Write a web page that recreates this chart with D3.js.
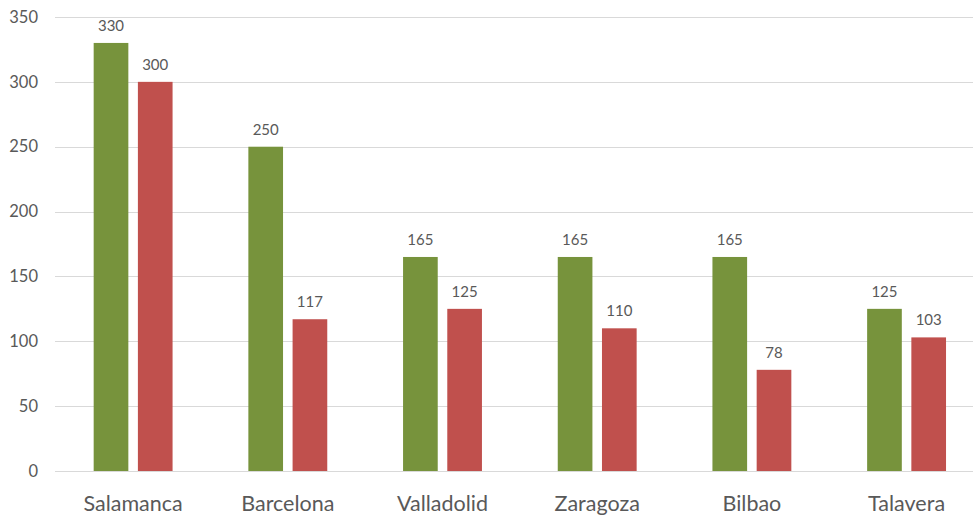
<!DOCTYPE html>
<html>
<head>
<meta charset="utf-8">
<script src="https://d3js.org/d3.v7.min.js"></script>
<style>
  body { margin: 0; background: #fff; }
  text { font-family: Lato, "Open Sans", sans-serif; fill: #595959; }
</style>
</head>
<body>
<script>
// Data
var cities = ["Salamanca", "Barcelona", "Valladolid", "Zaragoza", "Bilbao", "Talavera"];
var seriesNames = ["serie1", "serie2"];
var serie1 = [330, 250, 165, 165, 165, 125];
var serie2 = [300, 117, 125, 110, 78, 103];
var yTicks = [0, 50, 100, 150, 200, 250, 300, 350];
var colors = ["#77933C", "#C0504D"];

var width = 973, height = 516;

var svg = d3.select("body").append("svg")
    .attr("width", width)
    .attr("height", height);

// scales
var y = d3.scaleLinear()
    .domain([0, 350])
    .range([471, 17]);

var x0 = d3.scaleBand()
    .domain(cities)
    .range([55, 984.7])
    .paddingInner(0.49)
    .paddingOuter(0.25);

var x1 = d3.scaleBand()
    .domain(seriesNames)
    .range([0, x0.bandwidth()])
    .paddingInner(0.216);

// gridlines
svg.append("g")
  .selectAll("line")
  .data(yTicks)
  .enter().append("line")
    .attr("x1", 55)
    .attr("x2", width)
    .attr("y1", function(d) { return Math.round(y(d)) + 0.5; })
    .attr("y2", function(d) { return Math.round(y(d)) + 0.5; })
    .attr("stroke", "#d9d9d9")
    .attr("stroke-width", 1);

// y axis labels
var yAxis = svg.append("g")
    .attr("transform", "translate(38,0)")
    .call(d3.axisLeft(y).tickValues(yTicks).tickSize(0).tickPadding(0));
yAxis.select(".domain").remove();
yAxis.selectAll("text")
    .attr("font-size", "16.5px")
    .attr("font-family", null)
    .attr("fill", "#595959");

// x axis labels
var xAxis = svg.append("g")
    .attr("transform", "translate(0,471)")
    .call(d3.axisBottom(x0).tickSize(0).tickPadding(0));
xAxis.select(".domain").remove();
xAxis.selectAll("text")
    .attr("font-size", "21.5px")
    .attr("font-family", null)
    .attr("fill", "#595959")
    .attr("dy", null)
    .attr("y", 40);

// bars
var rows = cities.map(function(c, i) {
  return {city: c, values: [serie1[i], serie2[i]]};
});

var groups = svg.append("g")
  .selectAll("g")
  .data(rows)
  .enter().append("g")
    .attr("transform", function(d) { return "translate(" + x0(d.city) + ",0)"; });

groups.selectAll("rect")
  .data(function(d) { return d.values.map(function(v, j) { return {key: seriesNames[j], value: v, j: j}; }); })
  .enter().append("rect")
    .attr("x", function(d) { return x1(d.key); })
    .attr("y", function(d) { return y(d.value); })
    .attr("width", x1.bandwidth())
    .attr("height", function(d) { return y(0) - y(d.value); })
    .attr("fill", function(d) { return colors[d.j]; });

// data labels
groups.selectAll("text")
  .data(function(d) { return d.values.map(function(v, j) { return {key: seriesNames[j], value: v}; }); })
  .enter().append("text")
    .attr("x", function(d) { return x1(d.key) + x1.bandwidth() / 2; })
    .attr("y", function(d) { return y(d.value) - 12; })
    .attr("text-anchor", "middle")
    .attr("font-size", "15px")
    .text(function(d) { return d.value; });
</script>
</body>
</html>
